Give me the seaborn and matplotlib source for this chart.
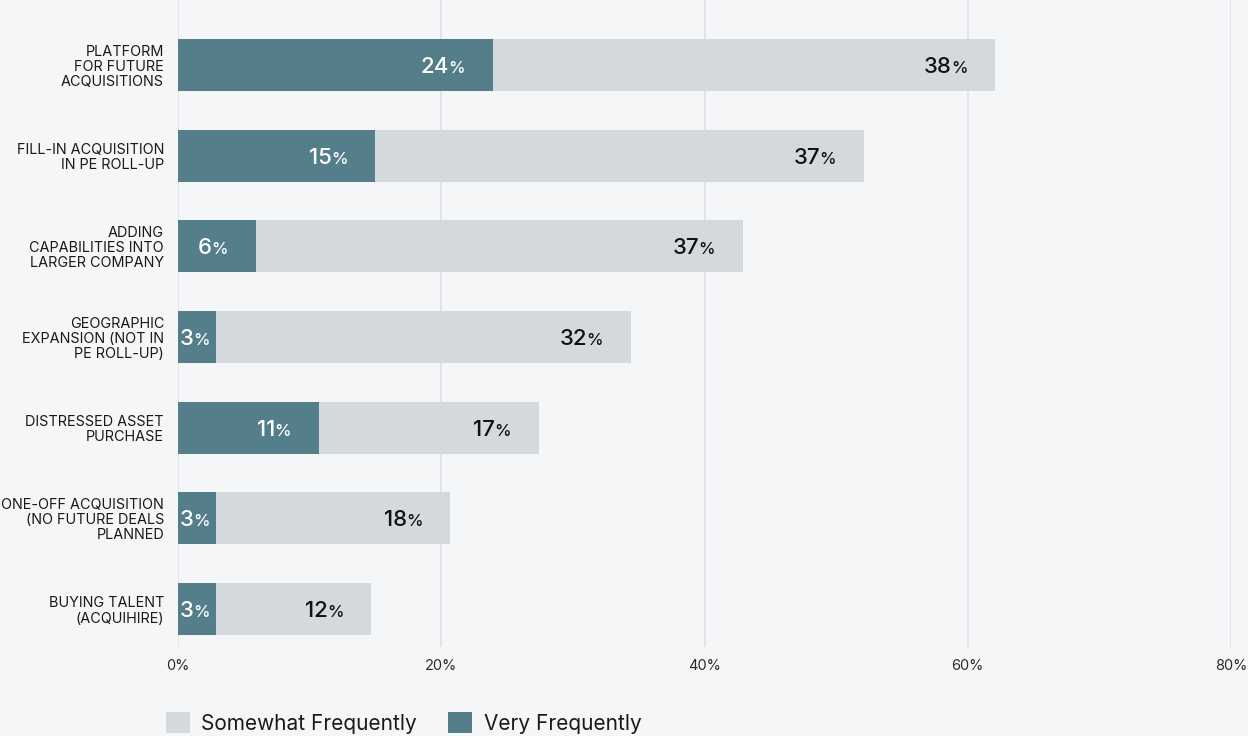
import matplotlib
matplotlib.use("Agg")
import matplotlib.pyplot as plt
import seaborn as sns
import pandas as pd
from matplotlib.patches import Patch

# ---- data ----
categories = [
    "PLATFORM\nFOR FUTURE\nACQUISITIONS",
    "FILL-IN ACQUISITION\nIN PE ROLL-UP",
    "ADDING\nCAPABILITIES INTO\nLARGER COMPANY",
    "GEOGRAPHIC\nEXPANSION (NOT IN\nPE ROLL-UP)",
    "DISTRESSED ASSET\nPURCHASE",
    "ONE-OFF ACQUISITION\n(NO FUTURE DEALS\nPLANNED",
    "BUYING TALENT\n(ACQUIHIRE)",
]
very_frequently = [23.9, 15.0, 5.9, 2.9, 10.7, 2.9, 2.9]
somewhat_frequently = [38.2, 37.1, 37.0, 31.5, 16.7, 17.8, 11.8]
very_labels = ["24", "15", "6", "3", "11", "3", "3"]
somewhat_labels = ["38", "37", "37", "32", "17", "18", "12"]
x_ticks = [0, 20, 40, 60, 80]
x_tick_labels = ["0%", "20%", "40%", "60%", "80%"]

DARK = "#557E8B"
LIGHT = "#D4D9DD"
BG = "#F5F6F8"
GRID = "#DDE0E3"

sns.set_theme(style="white")
plt.rcParams["font.family"] = ["Inter", "DejaVu Sans"]

df = pd.DataFrame({
    "category": categories,
    "very": very_frequently,
    "somewhat": somewhat_frequently,
})
df["total"] = df["very"] + df["somewhat"]

fig = plt.figure(figsize=(12.48, 7.36), dpi=100, facecolor=BG)
ax = fig.add_axes([178 / 1248, 89 / 736, (1231 - 178) / 1248, 647 / 736])
ax.set_facecolor(BG)

sns.barplot(data=df, x="total", y="category", color=LIGHT, width=0.574,
            linewidth=0, saturation=1, ax=ax, orient="h")
sns.barplot(data=df, x="very", y="category", color=DARK, width=0.574,
            linewidth=0, saturation=1, ax=ax, orient="h")

ax.set_xlim(0, 80)
ax.set_ylim(6.42, -0.717)
ax.set_xticks(x_ticks)
ax.set_xticklabels(x_tick_labels, fontsize=10.5, color="#2b2b2b")
ax.set_xlabel("")
ax.set_ylabel("")
ax.tick_params(axis="x", length=0, pad=9)
ax.tick_params(axis="y", length=0, pad=10)
for lab in ax.get_yticklabels():
    lab.set_fontsize(10.4)
    lab.set_color("#1a1a1a")
    lab.set_linespacing(1.1)
    lab.set_multialignment("right")
for s in ax.spines.values():
    s.set_visible(False)
ax.grid(axis="x", color=GRID, linewidth=1.2)
ax.grid(axis="y", visible=False)
ax.set_axisbelow(True)

# ---- value labels ----
fig.canvas.draw()
renderer = fig.canvas.get_renderer()
inv = ax.transData.inverted()


def place_label(start, end, yi, num, color):
    t1 = ax.text(0, 0, num, fontsize=16, fontweight="medium", color=color,
                 va="baseline", ha="left")
    t2 = ax.text(0, 0, "%", fontsize=12, fontweight="medium", color=color,
                 va="baseline", ha="left")
    w1 = t1.get_window_extent(renderer).width
    w2 = t2.get_window_extent(renderer).width
    gap = -1.0
    start_px, y_px = ax.transData.transform((start, yi))
    end_px = ax.transData.transform((end, yi))[0]
    right = end_px - 28
    left = right - w2 - gap - w1
    if left < start_px + 2:
        left = start_px + 2
    y_base = y_px - 8
    x1 = inv.transform((left, y_base))
    x2 = inv.transform((left + w1 + gap, y_base))
    t1.set_position(x1)
    t2.set_position(x2)


for i in range(len(categories)):
    v = very_frequently[i]
    s = somewhat_frequently[i]
    place_label(0, v, i, very_labels[i], "white")
    place_label(v, v + s, i, somewhat_labels[i], "#111111")

# ---- legend ----
handles = [Patch(facecolor=LIGHT, edgecolor="none", label="Somewhat Frequently"),
           Patch(facecolor=DARK, edgecolor="none", label="Very Frequently")]
leg = fig.legend(handles=handles, loc="center left",
                 bbox_to_anchor=(166 / 1248, 13 / 736), ncol=2, frameon=False,
                 fontsize=15, handlelength=1.15, handleheight=1.15,
                 handletextpad=0.55, columnspacing=1.5, borderpad=0,
                 borderaxespad=0)
for t in leg.get_texts():
    t.set_color("#1a1a1a")

fig.savefig("out.png", dpi=100, facecolor=BG)
